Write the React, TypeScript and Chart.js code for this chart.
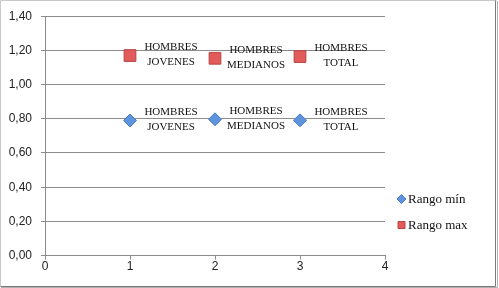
import React, { useEffect, useRef } from "react";
import { Chart, registerables } from "chart.js";

Chart.register(...registerables);

const xPositions = [1, 2, 3];
const rangoMin = [0.79, 0.797, 0.791];
const rangoMax = [1.17, 1.154, 1.164];
const pointLabels = [
  ["HOMBRES", "JOVENES"],
  ["HOMBRES", "MEDIANOS"],
  ["HOMBRES", "TOTAL"],
];
const seriesNames = ["Rango mín", "Rango max"];

const W = 499;
const H = 288;

const labelPlugin = {
  id: "pointLabels",
  afterDatasetsDraw(chart: any) {
    const ctx = chart.ctx;
    ctx.save();
    ctx.font = "11px 'Liberation Serif'";
    ctx.fillStyle = "#111";
    ctx.textAlign = "center";
    ctx.textBaseline = "middle";
    chart.data.datasets.forEach((_ds: any, di: number) => {
      const meta = chart.getDatasetMeta(di);
      meta.data.forEach((el: any, i: number) => {
        const lines = pointLabels[i];
        const cx = el.x + 41;
        const cy = el.y - 1;
        ctx.fillText(lines[0], cx, cy - 7);
        ctx.fillText(lines[1], cx, cy + 8);
      });
    });
    ctx.restore();
  },
};

const framePlugin = {
  id: "frameAndLegend",
  afterDraw(chart: any) {
    const ctx = chart.ctx;
    ctx.save();
    // frame
    ctx.strokeStyle = "#c8c8c8";
    ctx.lineWidth = 1;
    ctx.beginPath();
    ctx.moveTo(0.5, 286.5);
    ctx.lineTo(0.5, 0.5);
    ctx.lineTo(496.5, 0.5);
    ctx.stroke();
    ctx.strokeStyle = "#7a7a7a";
    ctx.beginPath();
    ctx.moveTo(495.5, 0.5);
    ctx.lineTo(495.5, 286.5);
    ctx.lineTo(0.5, 286.5);
    ctx.stroke();
    ctx.strokeStyle = "#b0b0b0";
    ctx.beginPath();
    ctx.moveTo(497.5, 1);
    ctx.lineTo(497.5, 287.5);
    ctx.lineTo(1, 287.5);
    ctx.stroke();

    // legend
    const items = chart.data.datasets.map((ds: any, i: number) => ({
      text: seriesNames[i],
      style: ds.pointStyle,
      fill: ds.backgroundColor,
      stroke: ds.borderColor,
    }));
    const lx = 401.5;
    const startY = 199;
    const gap = 26;
    ctx.font = "13px 'Liberation Serif'";
    ctx.textBaseline = "middle";
    ctx.textAlign = "left";
    items.forEach((it: any, i: number) => {
      const y = startY + i * gap;
      ctx.fillStyle = it.fill;
      ctx.strokeStyle = it.stroke;
      ctx.lineWidth = 1;
      ctx.beginPath();
      if (it.style === "rectRot") {
        ctx.moveTo(lx, y - 4.5);
        ctx.lineTo(lx + 4.5, y);
        ctx.lineTo(lx, y + 4.5);
        ctx.lineTo(lx - 4.5, y);
        ctx.closePath();
      } else {
        ctx.rect(lx - 3.5, y - 3.5, 7, 7);
      }
      ctx.fill();
      ctx.stroke();
      ctx.fillStyle = "#111";
      ctx.fillText(it.text, 408, y + 1);
    });
    ctx.restore();
  },
};

export default function App() {
  const ref = useRef<HTMLCanvasElement | null>(null);

  useEffect(() => {
    if (!ref.current) return;
    const chart = new Chart(ref.current, {
      type: "scatter",
      data: {
        datasets: [
          {
            label: seriesNames[0],
            data: xPositions.map((x, i) => ({ x, y: rangoMin[i] })),
            pointStyle: "rectRot",
            pointRadius: 6.5,
            backgroundColor: "#5E93DE",
            borderColor: "#4A7CC4",
            borderWidth: 1,
          },
          {
            label: seriesNames[1],
            data: xPositions.map((x, i) => ({ x, y: rangoMax[i] })),
            pointStyle: "rect",
            pointRadius: 8.3,
            backgroundColor: "#E15B5B",
            borderColor: "#B94444",
            borderWidth: 1,
          },
        ],
      },
      options: {
        animation: false,
        responsive: false,
        devicePixelRatio: 1,
        layout: { padding: { left: 0, right: 114, top: 15, bottom: 14 } },
        plugins: {
          legend: { display: false },
          tooltip: { enabled: false },
        },
        scales: {
          x: {
            type: "linear",
            min: 0,
            max: 4,
            ticks: {
              stepSize: 1,
              padding: 0,
              color: "#222",
              font: { family: "'Liberation Sans'", size: 12 },
            },
            grid: {
              drawOnChartArea: false,
              drawTicks: true,
              tickLength: 4,
              color: "#8c8c8c",
            },
            border: { color: "#8c8c8c" },
          },
          y: {
            type: "linear",
            min: 0,
            max: 1.4,
            afterFit: (s: any) => {
              s.width = 45;
            },
            ticks: {
              stepSize: 0.2,
              padding: 9,
              color: "#222",
              font: { family: "'Liberation Sans'", size: 12 },
              callback: (v: any) => Number(v).toFixed(2).replace(".", ","),
            },
            grid: {
              color: "#8c8c8c",
              tickLength: 4,
            },
            border: { color: "#8c8c8c" },
          },
        },
      },
      plugins: [labelPlugin, framePlugin],
    });
    return () => chart.destroy();
  }, []);

  return (
    <div style={{ position: "fixed", left: 0, top: 0, width: W, height: H, background: "#fff" }}>
      <canvas ref={ref} width={W} height={H} style={{ display: "block", width: W, height: H }} />
    </div>
  );
}
